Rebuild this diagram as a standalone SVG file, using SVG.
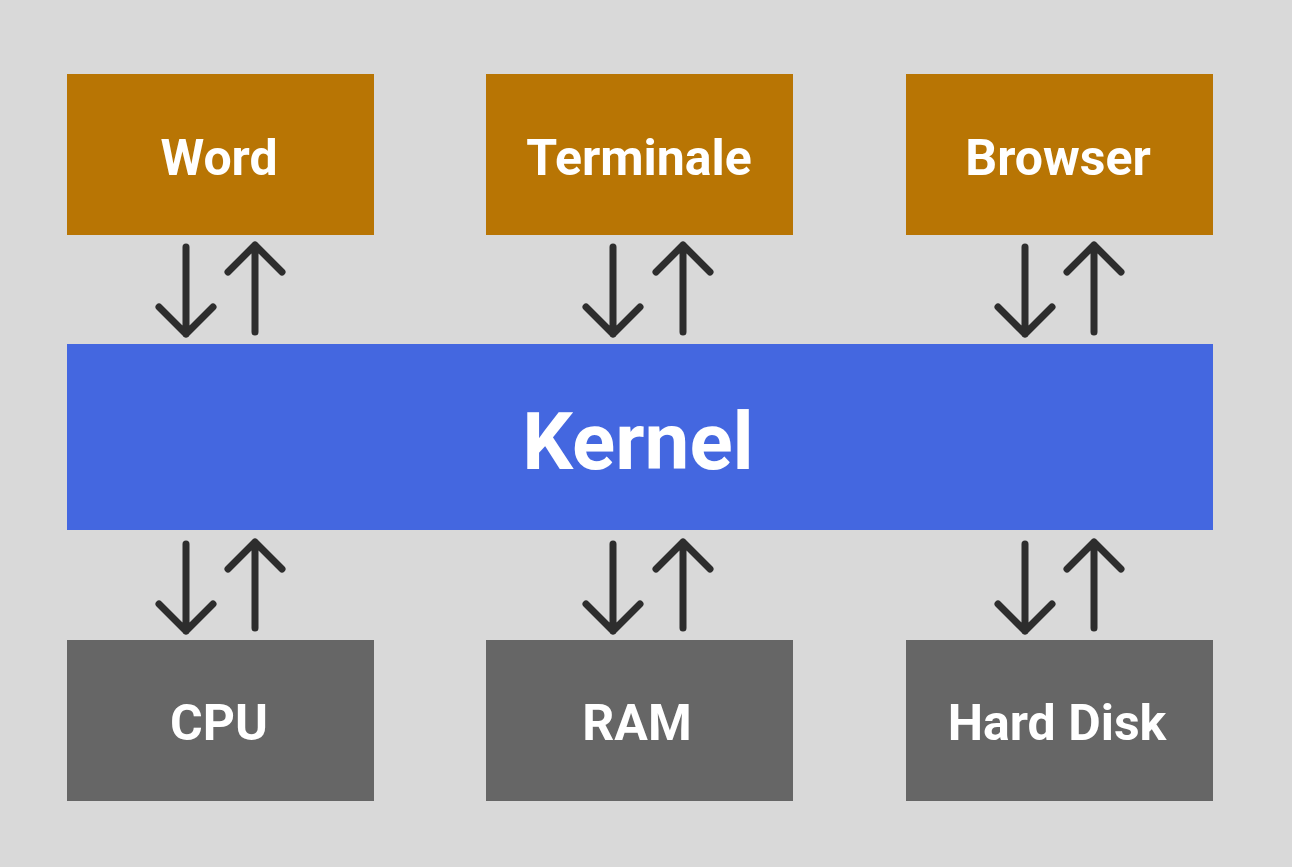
<svg xmlns="http://www.w3.org/2000/svg" width="1292" height="867" viewBox="0 0 1292 867">
<defs>
<style>
.app{fill:#b87504}
.hw{fill:#666666}
.kern{fill:#4467e0}
.lbl{font-family:Roboto,"Liberation Sans",sans-serif;font-weight:bold;fill:#ffffff;text-anchor:middle}
.ar{stroke:#2d2d2d;stroke-width:7;fill:none;stroke-linecap:round;stroke-linejoin:round}
</style>
</defs>
<rect width="1292" height="867" fill="#d9d9d9"/>
<g id="word"><rect class="app" x="67" y="74" width="307" height="161"/><text class="lbl" x="219" y="175" font-size="50">Word</text></g>
<g id="terminale"><rect class="app" x="486" y="74" width="307" height="161"/><text class="lbl" x="639" y="175" font-size="50">Terminale</text></g>
<g id="browser"><rect class="app" x="906" y="74" width="307" height="161"/><text class="lbl" x="1058" y="175" font-size="50">Browser</text></g>
<g id="kernel"><rect class="kern" x="67" y="344" width="1146" height="186"/><text class="lbl" x="638" y="469" font-size="80">Kernel</text></g>
<g id="cpu"><rect class="hw" x="67" y="640" width="307" height="161"/><text class="lbl" x="219" y="740" font-size="50">CPU</text></g>
<g id="ram"><rect class="hw" x="486" y="640" width="307" height="161"/><text class="lbl" x="637" y="740" font-size="50">RAM</text></g>
<g id="harddisk"><rect class="hw" x="906" y="640" width="307" height="161"/><text class="lbl" x="1057" y="740" font-size="50">Hard Disk</text></g>
<g id="connectors">
<path class="ar" d="M186 247V334M159 307L186 334L213 307"/>
<path class="ar" d="M255 332V245M228 272L255 245L282 272"/>
<path class="ar" d="M613 247V334M586 307L613 334L640 307"/>
<path class="ar" d="M683 332V245M656 272L683 245L710 272"/>
<path class="ar" d="M1025 247V334M998 307L1025 334L1052 307"/>
<path class="ar" d="M1094 332V245M1067 272L1094 245L1121 272"/>
<path class="ar" d="M186 544V631M159 604L186 631L213 604"/>
<path class="ar" d="M255 628V542M228 569L255 542L282 569"/>
<path class="ar" d="M613 544V631M586 604L613 631L640 604"/>
<path class="ar" d="M683 628V542M656 569L683 542L710 569"/>
<path class="ar" d="M1025 544V631M998 604L1025 631L1052 604"/>
<path class="ar" d="M1094 628V542M1067 569L1094 542L1121 569"/>
</g>
</svg>
